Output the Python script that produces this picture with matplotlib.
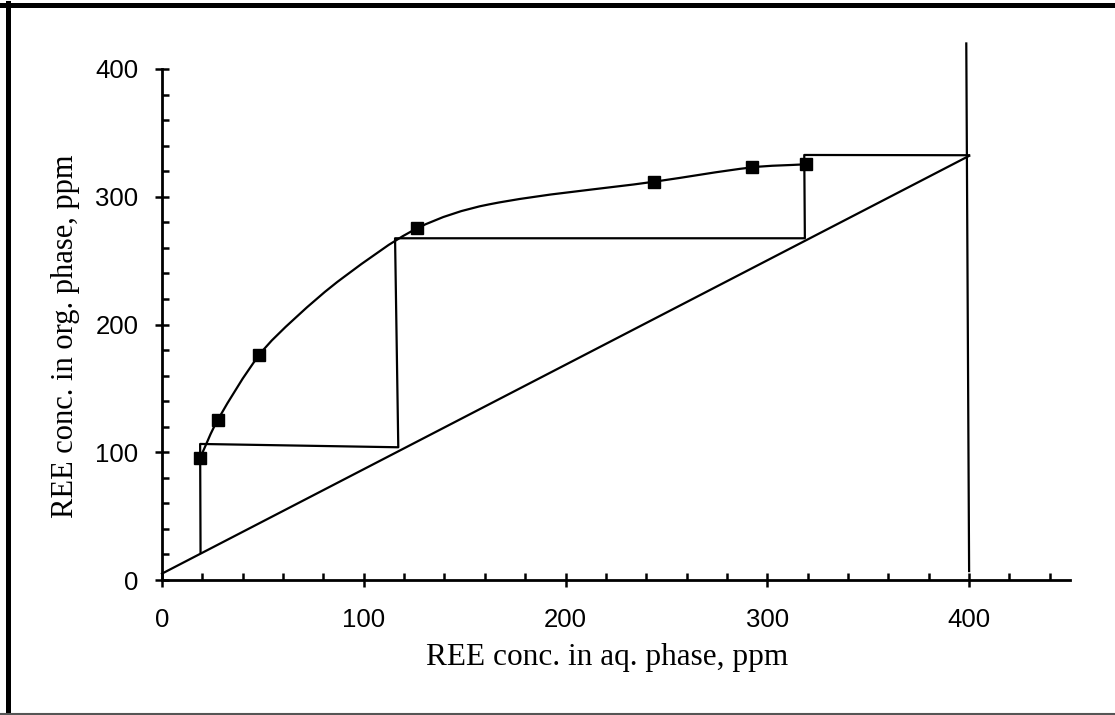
import numpy as np
import matplotlib.pyplot as plt
from matplotlib.path import Path
from matplotlib.patches import PathPatch
from matplotlib.lines import Line2D
from matplotlib.ticker import MultipleLocator

# measured equilibrium points (aqueous vs organic REE, ppm)
aq_conc = [18.8, 27.6, 48.2, 126.5, 244.0, 292.5, 319.0]
org_conc = [95.3, 125.2, 176.1, 275.3, 311.8, 323.0, 325.4]

# hand-fitted isotherm curve through the points
iso_aq = [18.8, 27.6, 48.2, 66.0, 90.0, 126.5, 162.0, 244.0, 292.5, 319.0]
iso_org = [95.3, 125.2, 176.1, 205.0, 237.0, 275.3, 294.0, 311.8, 323.0, 325.4]

# operating line
op_aq = [0, 400]
op_org = [5, 332]

# stage stepping between operating line and isotherm
step_aq = [400, 318.3, 318.6, 115.5, 117.1, 18.9, 19.1]
step_org = [332.5, 332.7, 267.5, 267.5, 103.9, 106.5, 22]

# feed concentration line
feed_aq = [398.6, 400]
feed_org = [420, 7]

x_ticks = [0, 100, 200, 300, 400]
y_ticks = [0, 100, 200, 300, 400]


def smooth_path(xs, ys, yscale=0.633):
    # chord-length bezier spline through the points
    p = np.column_stack([xs, ys]).astype(float)
    q = p * [1.0, yscale]
    d = np.hypot(*np.diff(q, axis=0).T)
    n = len(p)
    tang = np.zeros_like(p)
    for i in range(n):
        if i == 0:
            tang[i] = (p[1] - p[0]) / d[0]
        elif i == n - 1:
            tang[i] = (p[-1] - p[-2]) / d[-1]
        else:
            tang[i] = (p[i + 1] - p[i - 1]) / (d[i - 1] + d[i])
    verts = [tuple(p[0])]
    codes = [Path.MOVETO]
    for i in range(n - 1):
        c1 = p[i] + tang[i] * d[i] / 3
        c2 = p[i + 1] - tang[i + 1] * d[i] / 3
        verts += [tuple(c1), tuple(c2), tuple(p[i + 1])]
        codes += [Path.CURVE4] * 3
    return Path(verts, codes)


fig = plt.figure(figsize=(11.15, 7.15), dpi=100)
ax = fig.add_axes([162 / 1115, 135 / 715, 908 / 1115, 511 / 715])

lw = 1.6
ax.add_patch(PathPatch(smooth_path(iso_aq, iso_org), fill=False,
                       edgecolor='black', linewidth=lw))
ax.plot(aq_conc, org_conc, ls='none', marker='s', ms=8, color='black', zorder=5)
ax.plot(op_aq, op_org, color='black', lw=lw, clip_on=False)
ax.plot(step_aq, step_org, color='black', lw=lw, clip_on=False)
ax.plot(feed_aq, feed_org, color='black', lw=lw, clip_on=False)

ax.set_xlim(0, 450)
ax.set_ylim(0, 400)
ax.set_xticks(x_ticks)
ax.set_yticks(y_ticks)
ax.xaxis.set_minor_locator(MultipleLocator(20))
ax.yaxis.set_minor_locator(MultipleLocator(20))

for side in ('top', 'right'):
    ax.spines[side].set_visible(False)
for side in ('left', 'bottom'):
    ax.spines[side].set_linewidth(2)

ax.tick_params(which='major', direction='inout', length=10, width=1.8)
ax.tick_params(which='minor', direction='in', length=4.8, width=1.8)
ax.tick_params(axis='x', which='major', pad=15)
ax.tick_params(axis='y', which='major', pad=12)
for lab in ax.get_xticklabels() + ax.get_yticklabels():
    lab.set_fontfamily('Liberation Sans')
    lab.set_fontsize(18.5)

ax.set_xlabel('REE conc. in aq. phase, ppm', family='Liberation Serif', fontsize=22.5)
ax.set_ylabel('REE conc. in org. phase, ppm', family='Liberation Serif', fontsize=22)
ax.xaxis.set_label_coords(0.49, -0.123)
ax.yaxis.set_label_coords(-0.09, 0.477)

# frame around the figure
fig.add_artist(Line2D([0, 1], [1 - 5.3 / 715, 1 - 5.3 / 715], color='black', lw=3.6,
                      transform=fig.transFigure))
fig.add_artist(Line2D([7.5 / 1115, 7.5 / 1115], [1 - 3 / 715, 0], color='black', lw=3.6,
                      transform=fig.transFigure))
fig.add_artist(Line2D([0, 1], [1.2 / 715, 1.2 / 715], color='#555555', lw=1.5,
                      transform=fig.transFigure))

fig.savefig('out.png', dpi=100)
